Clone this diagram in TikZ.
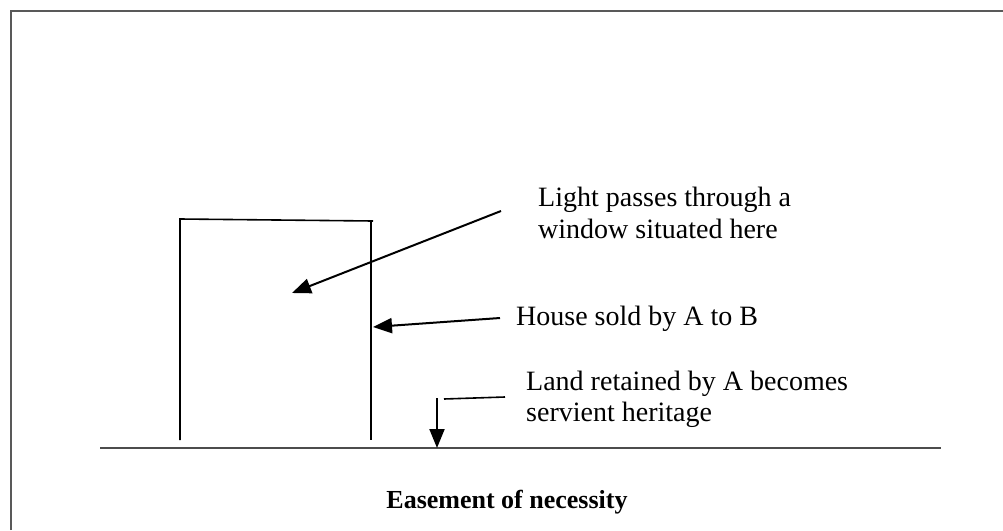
\documentclass[tikz,border=0pt]{standalone}
\usepackage{fontspec}
\setmainfont{Liberation Serif}
\usetikzlibrary{arrows.meta}
\begin{document}
\begin{tikzpicture}[x=1pt,y=-1pt,
  wall/.style={line width=1.6pt},
  pointer/.style={line width=2pt,-{Triangle[length=19pt,width=15pt]}},
  label/.style={font=\fontsize{28}{32}\selectfont,anchor=base west,inner sep=0pt}]
  \useasboundingbox (0,0) rectangle (1003,530);
  % outer frame (open to the right and bottom)
  \draw[line width=1.4pt,gray!70!black] (11,530) -- (11,11) -- (1003,11);
  % ground
  \coordinate (g0) at (100,448);
  \coordinate (g1) at (941,448);
  \draw[line width=1.3pt,gray!60!black] (g0) -- (g1);
  % house
  \coordinate (hl0) at (180,440);
  \coordinate (hl1) at (180,219);
  \coordinate (hr1) at (373,221);
  \coordinate (hr0) at (371,440);
  \draw[wall] (hl0) -- (hl1) -- (hr1);
  \draw[wall] (371,221) -- (hr0);
  % labels
  \node[label] (light1) at (538,206) {Light passes through a};
  \node[label] (light2) at (538,238) {window situated here};
  \node[label] (house) at (516,325) {House sold by A to B};
  \node[label] (land1) at (526,390) {Land retained by A becomes};
  \node[label] (land2) at (526,421) {servient heritage};
  \node[font=\fontsize{26}{30}\selectfont\bfseries,inner sep=0pt,anchor=base] (title) at (507,508) {Easement of necessity};
  % pointers
  \coordinate (a1s) at (501,211);
  \coordinate (a1e) at (292,293);
  \draw[pointer] (a1s) -- (a1e);
  \coordinate (a2s) at (500,318);
  \coordinate (a2e) at (373,327);
  \draw[pointer] (a2s) -- (a2e);
  \coordinate (a3a) at (505,397);
  \coordinate (a3b) at (444,399);
  \draw[line width=1.6pt] (a3a) -- (a3b);
  \coordinate (a3s) at (437,398);
  \coordinate (a3e) at (437,448);
  \draw[pointer] (a3s) -- (a3e);
\end{tikzpicture}
\end{document}
